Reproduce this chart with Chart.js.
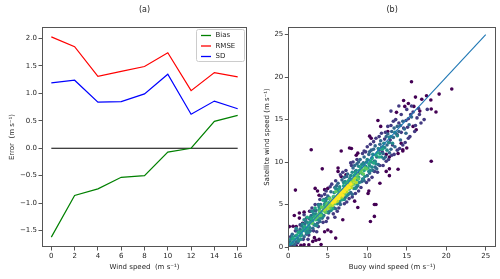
<!DOCTYPE html>
<html><head><meta charset="utf-8">
<script src="https://cdn.jsdelivr.net/npm/chart.js@4.4.0/dist/chart.umd.min.js"></script>
<style>
html,body{margin:0;padding:0;background:#fff;width:500px;height:279px;overflow:hidden;}
canvas{position:absolute;top:0;}
#ca{left:0;} #cb{left:250px;}
</style></head><body>
<canvas id="ca" width="250" height="279"></canvas>
<canvas id="cb" width="250" height="279"></canvas>
<script>
// ---------- Panel (a) data ----------
const windSpeed = [0, 2, 4, 6, 8, 10, 12, 14, 16];
const bias = [-1.62, -0.86, -0.74, -0.53, -0.50, -0.07, 0.00, 0.49, 0.60];
const rmse = [2.03, 1.85, 1.31, 1.40, 1.49, 1.74, 1.05, 1.38, 1.30];
const sd   = [1.19, 1.24, 0.84, 0.85, 0.99, 1.35, 0.62, 0.86, 0.72];
const zeroLineX = [0, 16];
const zeroLineY = [0, 0];
const errorTicks = [-1.5, -1.0, -0.5, 0.0, 0.5, 1.0, 1.5, 2.0];
const speedTicksA = [0, 2, 4, 6, 8, 10, 12, 14, 16];

// ---------- Panel (b) data ----------
const speedTicksB = [0, 5, 10, 15, 20, 25];
const oneToOne = [0, 25];
const densityLevels = [0.0, 0.17, 0.33, 0.47, 0.6, 0.75, 0.88, 1.0];
const level0 = [[2.9,11.45],[18.1,10.1],[0.9,6.7],[0.13,2.4],[0.76,3.7],[1.4,3.4],[1.4,4.0],[2.0,4.1],[1.8,2.8],[0.6,2.45],[1.0,2.4],[2.9,3.2],[2.7,4.2],
[4.3,9.2],[6.0,1.05],[4.15,0.3],[2.6,0.25],[1.6,0.2],[1.0,0.15],[0.4,0.3],[2.0,0.27],[3.1,0.66],[3.5,0.8],
[7.75,11.65],[8.8,11.05],[8.0,11.6],[8.6,10.8],[6.7,11.3],[6.7,8.3],[10.5,12.8],
[8.8,4.65],[8.4,5.4],[10.9,5.0],[11.1,5.0],[10.9,3.6],[10.4,3.0],[11.6,7.5],[10.2,6.6],[10.1,6.3],[12.4,8.9],[12.8,8.4],[13.9,9.15],[12.8,10.6],[13.9,11.0],[14.5,11.3],
[12.8,9.2],[14.5,11.45],[15.0,11.65],[14.3,12.2],[12.4,10.9],
[3.4,6.9],[3.7,6.6],[3.9,6.1],[5.0,6.9],[4.6,6.75],[6.3,8.9],[7.3,8.5],[6.3,9.3],
[6.9,3.2],[5.4,1.8],[4.6,1.8],[5.0,2.0],[3.9,0.9],[3.3,1.1],
[15.6,19.45],[20.7,18.6],[19.1,18.0],[17.5,17.8],[16.1,17.65],[14.6,17.25],[18.05,17.3],[16.9,17.4],[18.1,16.25],[18.7,15.9],[13.7,15.85],[11.35,14.9],[11.7,14.2],[15.8,14.2],[16.2,13.8],[12.6,13.6],[10.3,13.05],[15.2,16.9],[14.75,16.55],[15.9,16.55],[16.65,16.0]];
const level1 = [[0.3,1.2],[0.5,0.2],[0.9,1.9],[1.2,0.5],[1.5,2.6],[1.9,0.9],[2.3,3.4],[2.6,1.4],[2.8,4.2],[3.2,1.9],[3.4,5.0],[3.8,2.4],[4.0,5.6],[4.4,2.9],[4.6,6.2],[5.0,3.4],[5.3,7.1],[5.7,3.9],[6.0,7.8],[6.4,4.6],[6.6,8.5],[7.1,5.1],[7.3,9.0],[7.7,5.7],[8.0,9.6],[8.5,6.3],[8.7,10.3],[9.2,7.0],[9.4,11.0],[9.9,7.6],[10.0,11.8],[10.6,8.2],[10.8,12.4],[11.3,8.8],[11.5,13.0],[12.0,9.6],[12.3,13.5],[12.7,10.3],[13.0,14.3],[13.4,10.9],[13.6,15.0],[14.1,11.6],[14.3,15.6],[14.8,12.3],[15.0,16.2],[15.4,13.0],[15.6,16.6],[16.0,13.6],[16.3,15.2],[16.8,14.6],[17.2,15.0],[14.6,14.0],[15.2,15.1],[15.8,15.9],[16.5,16.3],[13.8,13.2],[14.0,14.6],[12.9,12.6],[13.2,12.0],[11.9,11.2],[12.2,12.7],[17.6,16.2],[13.0,16.0],[14.0,16.6],[15.1,14.1],[16.6,15.6],
[9.8,11.2],[10.4,12.1],[11.1,12.8],[11.8,13.4],[12.6,14.2],[13.3,14.8],[10.9,8.9],[11.6,9.6],[12.4,10.1],[13.1,10.8],[13.8,11.4],[14.5,12.0],[15.2,12.8],[16.1,14.3],[15.5,15.6],[14.9,14.9],[14.3,13.5],
[2.0,3.8],[2.5,0.9],[3.0,4.6],[3.6,1.8],[4.2,6.0],[4.8,3.0],[5.5,7.4],[6.2,4.2],[6.9,8.8],[7.4,5.3],[8.2,10.0],[8.9,6.6],[9.6,11.3],[10.2,7.9],[4.8,6.6],[5.9,3.5],[7.9,9.9],[8.1,5.9]];
const level2 = [[0.2,0.6],[0.5,1.5],[0.8,0.3],[1.1,1.9],[1.3,0.8],[1.7,2.5],[2.0,1.2],[2.2,3.0],[2.5,1.8],[2.9,3.7],[3.1,2.2],[3.5,4.3],[3.7,2.8],[4.1,5.0],[4.3,3.4],[4.8,5.7],[5.1,4.0],[5.4,6.5],[5.8,4.6],[6.1,7.2],[6.5,5.2],[6.8,7.9],[7.2,5.8],[7.5,8.6],[7.9,6.4],[8.2,9.3],[8.6,7.0],[8.9,10.0],[9.3,7.7],[9.6,10.6],[10.0,8.4],[10.3,11.2],[10.7,9.0],[11.0,11.9],[11.4,9.7],[11.7,12.5],[12.1,10.4],[12.4,13.0],[12.8,11.1],[13.1,13.6],[13.5,11.8],[13.8,14.2],[14.2,12.6],[14.5,14.8],[14.9,13.4],[10.5,10.0],[11.2,10.6],[11.8,11.7],[12.5,12.0],[13.3,12.9],[14.0,13.6],[9.8,9.5],[12.0,11.0],[12.8,12.3],[11.5,11.4],[10.9,10.1],[13.6,13.4],
[1.0,0.6],[1.5,2.1],[2.3,1.5],[2.7,3.3],[3.3,2.6],[3.9,4.7],[4.5,3.7],[5.0,6.0],[5.6,4.8],[6.3,7.5],[6.8,5.6],[7.1,8.2],[7.6,6.2],[8.4,9.6],[8.8,7.2],[9.1,10.3],[9.5,8.0],[10.2,10.9],[10.3,8.7],[10.8,11.5],[11.0,9.4],[11.6,12.1],[12.3,10.6],[12.6,13.3],[13.0,11.5],[13.4,14.0],[14.2,14.3],[14.7,13.9],[15.3,14.4],[15.6,15.3],[9.0,8.7],[9.5,9.9],[8.5,8.9],
[2.1,2.7],[2.8,1.9],[3.3,4.3],[4.0,3.0],[4.5,5.6],[5.2,4.2],[5.9,7.0],[6.6,5.0],[7.4,8.3],[8.1,6.2],[8.7,9.8],[9.6,7.8],[10.5,11.4],[11.2,9.2],[3.8,5.0],[6.0,4.5]];
const level3 = [[0.1,0.3],[0.3,0.9],[0.6,0.6],[0.9,1.3],[1.2,1.0],[1.4,1.8],[1.7,1.4],[1.9,2.3],[2.2,1.9],[2.4,2.9],[2.7,2.3],[3.0,3.4],[3.2,2.7],[3.5,3.9],[3.8,3.2],[4.0,4.6],[4.3,3.7],[4.6,5.1],[4.9,4.1],[5.2,5.8],[5.5,4.6],[5.8,6.4],[6.2,5.1],[6.5,7.1],[6.9,5.6],[7.2,7.7],[7.6,6.3],[7.9,8.4],[8.3,6.9],[8.6,9.0],[9.0,7.6],[9.3,9.7],[9.7,8.3],[10.0,10.3],[10.4,9.0],[10.7,10.9],[11.1,9.8],[11.4,11.6],[11.8,10.6],[12.1,12.2],[12.5,11.4],[12.8,12.9],[13.2,12.2],[13.5,13.5],[1.0,2.2],[2.0,3.2],[3.0,4.2],[1.6,0.9],[2.6,1.7],[3.6,2.5],
[0.5,1.2],[1.3,0.7],[1.8,2.7],[2.3,1.7],[2.8,3.5],[3.4,2.6],[3.9,4.9],[4.4,3.6],[4.8,5.6],[5.4,4.3],[6.0,6.9],[6.5,5.4],[7.0,7.6],[7.4,6.0],[8.1,8.8],[8.5,6.9],[8.9,9.5],[9.4,8.0],[9.9,10.0],[10.2,8.9],[10.6,10.5],[11.0,10.1],[11.6,11.0],[12.2,11.7],[12.0,11.8],[12.7,12.3],[13.0,13.0],[13.8,13.1],[9.2,9.3],[10.3,9.6],
[2.5,2.1],[3.2,3.9],[4.1,3.4],[4.7,5.4],[5.6,4.5],[6.2,6.8],[7.1,5.6],[7.8,8.1],[8.7,7.3],[9.5,9.8],[10.6,9.4]];
const level4 = [[0.4,0.4],[0.8,0.9],[1.1,1.4],[1.5,1.3],[1.8,1.9],[2.1,2.4],[2.4,2.2],[2.8,2.9],[3.1,3.1],[3.3,3.6],[3.7,3.6],[4.0,4.1],[4.2,3.9],[4.5,4.6],[4.8,4.5],[5.1,5.2],[5.4,5.0],[5.7,5.9],[6.0,5.5],[6.3,6.6],[6.6,6.0],[7.0,7.2],[7.3,6.6],[7.6,7.8],[8.0,7.3],[8.3,8.4],[8.7,7.9],[9.0,9.0],[9.4,8.6],[9.7,9.5],[10.1,9.3],[10.4,10.1],[10.8,9.9],[11.1,10.8],[11.5,10.6],[11.9,11.5],[3.4,4.6],[4.4,5.5],[2.4,3.5],[5.6,4.5],[6.8,5.6],
[0.6,1.0],[1.3,1.7],[1.6,1.6],[2.0,2.0],[2.6,2.6],[2.9,3.3],[3.5,3.2],[3.9,4.4],[4.6,4.9],[5.3,5.6],[5.9,5.2],[6.5,6.8],[6.9,6.2],[7.3,7.5],[7.8,7.0],[8.5,8.7],[8.9,8.2],[9.2,9.4],[9.6,9.0],[10.2,9.8],[10.6,10.4],[11.3,11.1]];
const level5 = [[3.0,2.8],[3.4,3.3],[3.8,3.8],[4.1,3.7],[4.4,4.3],[4.7,4.1],[5.0,4.8],[5.3,4.6],[5.6,5.4],[5.9,5.1],[6.2,6.0],[6.5,5.7],[6.8,6.5],[7.1,6.2],[7.4,7.1],[7.7,6.8],[8.0,7.7],[8.3,7.4],[8.6,8.2],[8.9,8.0],[9.2,8.8],[9.5,8.6],[9.9,9.2],[4.2,4.7],[5.2,5.7],[6.0,6.5],
[3.6,3.5],[4.0,4.2],[4.5,4.6],[4.9,5.1],[5.5,5.2],[5.8,5.9],[6.4,6.3],[7.0,6.8],[7.6,7.5],[8.2,7.9],[8.8,8.5],[9.3,9.1],[9.7,9.3]];
const level6 = [[4.6,4.4],[5.0,4.5],[5.3,5.1],[5.6,4.9],[5.9,5.6],[6.2,5.4],[6.5,6.2],[6.8,5.9],[7.1,6.7],[7.4,6.5],[7.7,7.3],[8.0,7.0],[8.3,7.8],[8.6,7.6],[5.5,5.5],[6.7,6.6],
[4.9,4.8],[5.7,5.5],[6.0,5.7],[6.3,6.1],[7.0,6.4],[7.3,7.0],[7.9,7.6],[8.4,8.1],[5.2,4.9],[6.9,6.7],[7.6,7.1],[8.1,7.4]];
const level7 = [[5.6,5.2],[5.9,5.3],[6.1,5.8],[6.4,5.7],[6.6,6.3],[6.9,6.1],[7.1,6.5],[7.4,6.8],[7.7,7.0],[7.9,7.4],[6.0,5.6],[6.7,6.4],[7.2,6.9],[6.3,6.0],[6.5,6.0],[7.0,6.6],[7.5,7.2],[5.8,5.5]];
const scatterLevels = [level0, level1, level2, level3, level4, level5, level6, level7];

// ---------- styling ----------
const FONT = "'DejaVu Sans', sans-serif";
const TXT = '#262626';
const AX = '#555555';
const VIRIDIS = [[68,1,84],[72,36,117],[65,68,135],[53,95,141],[42,120,142],[33,145,140],[34,168,132],[68,191,112],[122,209,81],[189,223,38],[253,231,37]];
function viridis(t){
  const p = Math.max(0, Math.min(1, t)) * 10;
  const i = Math.min(9, Math.floor(p)), f = p - i;
  const a = VIRIDIS[i], b = VIRIDIS[i+1];
  return 'rgb(' + [0,1,2].map(k => Math.round(a[k] + (b[k]-a[k])*f)).join(',') + ')';
}
const fmtErr = v => Number(v).toFixed(1).replace('-', '\u2212');

const framePlugin = {
  id: 'frame',
  afterDatasetsDraw(chart){
    const a = chart.chartArea, c = chart.ctx;
    c.save(); c.strokeStyle = AX; c.lineWidth = 1;
    c.strokeRect(Math.round(a.left)+0.5, Math.round(a.top)+0.5, Math.round(a.right-a.left)-1, Math.round(a.bottom-a.top)-1);
    c.restore();
  }
};
const panelTitle = {
  id: 'panelTitle',
  afterDraw(chart, args, opts){
    const a = chart.chartArea, c = chart.ctx;
    c.save(); c.fillStyle = TXT; c.font = '8px ' + FONT; c.textAlign = 'center'; c.textBaseline = 'middle';
    c.fillText(opts.text, (a.left + a.right)/2, 9.5);
    c.restore();
  }
};
const boxLegend = {
  id: 'boxLegend',
  afterDraw(chart, args, opts){
    if (!opts.show) return;
    const a = chart.chartArea, c = chart.ctx;
    const items = chart.data.datasets.filter(d => d.label);
    const w = 48, h = 32, x = a.right - 3 - w, y = a.top + 2;
    c.save();
    c.fillStyle = 'rgba(255,255,255,0.85)'; c.strokeStyle = '#cccccc'; c.lineWidth = 1;
    c.beginPath(); c.roundRect(x+0.5, y+0.5, w, h, 2); c.fill(); c.stroke();
    c.font = '7px ' + FONT; c.textBaseline = 'middle'; c.textAlign = 'left';
    items.forEach((d, i) => {
      const yy = y + 6.5 + i*10.5;
      c.strokeStyle = d.borderColor; c.lineWidth = 1.3;
      c.beginPath(); c.moveTo(x+5, yy); c.lineTo(x+15, yy); c.stroke();
      c.fillStyle = TXT; c.fillText(d.label, x+19.5, yy);
    });
    c.restore();
  }
};

function axisCommon(ticksArr, fmt, titleText, titlePad, fit){
  return {
    type: 'linear',
    afterFit: fit,
    afterBuildTicks: s => { s.ticks = ticksArr.map(v => ({value: v})); },
    ticks: {font: {family: FONT, size: 7}, color: TXT, padding: 1.5, maxRotation: 0, autoSkip: false, callback: fmt},
    grid: {drawOnChartArea: false, drawTicks: true, tickLength: 3.5, color: AX, lineWidth: 1},
    border: {display: false},
    title: {display: true, text: titleText, font: {family: FONT, size: 7}, color: TXT, padding: titlePad}
  };
}

const pairs = (xs, ys) => xs.map((x, i) => ({x: x, y: ys[i]}));
const lineDs = (label, xs, ys, color) => ({label: label, data: pairs(xs, ys), showLine: true, borderColor: color, backgroundColor: color, borderWidth: 1.2, pointRadius: 0, tension: 0});

new Chart(document.getElementById('ca'), {
  type: 'scatter',
  data: {datasets: [
    lineDs('Bias', windSpeed, bias, '#008000'),
    lineDs('RMSE', windSpeed, rmse, '#ff0000'),
    lineDs('SD', windSpeed, sd, '#0000ff'),
    lineDs('', zeroLineX, zeroLineY, '#000000')
  ]},
  options: {
    responsive: false, animation: false, events: [],
    layout: {padding: {left: 0, right: 3, top: 27, bottom: 0}},
    plugins: {legend: {display: false}, tooltip: {enabled: false}, panelTitle: {text: '(a)'}, boxLegend: {show: true}},
    scales: {
      x: Object.assign(axisCommon(speedTicksA, v => String(v), 'Wind speed  (m s\u207B\u00B9)', {top: 0, bottom: 7.3}, s => { s.height = 32; }), {min: -0.8, max: 16.8}),
      y: Object.assign(axisCommon(errorTicks, fmtErr, 'Error  (m s\u207B\u00B9)', {top: 8.3, bottom: 0}, s => { s.width = 42; }), {min: -1.8, max: 2.21})
    }
  },
  plugins: [framePlugin, panelTitle, boxLegend]
});

const bDatasets = [{label: '', data: pairs(oneToOne, oneToOne), showLine: true, borderColor: '#1f77b4', borderWidth: 1.1, pointRadius: 0}];
for (let k = scatterLevels.length - 1; k >= 0; k--) {
  const col = viridis(densityLevels[k]);
  bDatasets.push({label: '', data: scatterLevels[k].map(p => ({x: p[0], y: p[1]})), pointRadius: 1.8, pointBorderWidth: 0, backgroundColor: col, borderColor: col});
}

new Chart(document.getElementById('cb'), {
  type: 'scatter',
  data: {datasets: bDatasets},
  options: {
    responsive: false, animation: false, events: [],
    layout: {padding: {left: 0, right: 4, top: 27, bottom: 0}},
    plugins: {legend: {display: false}, tooltip: {enabled: false}, panelTitle: {text: '(b)'}},
    scales: {
      x: Object.assign(axisCommon(speedTicksB, v => String(v), 'Buoy wind speed (m s\u207B\u00B9)', {top: 0, bottom: 7.3}, s => { s.height = 32; }), {min: 0, max: 26.3}),
      y: Object.assign(axisCommon(speedTicksB, v => String(v), 'Satellite wind speed (m s\u207B\u00B9)', {top: 12.8, bottom: 0}, s => { s.width = 38.3; }), {min: 0, max: 25.9})
    }
  },
  plugins: [framePlugin, panelTitle]
});
</script>
</body></html>
